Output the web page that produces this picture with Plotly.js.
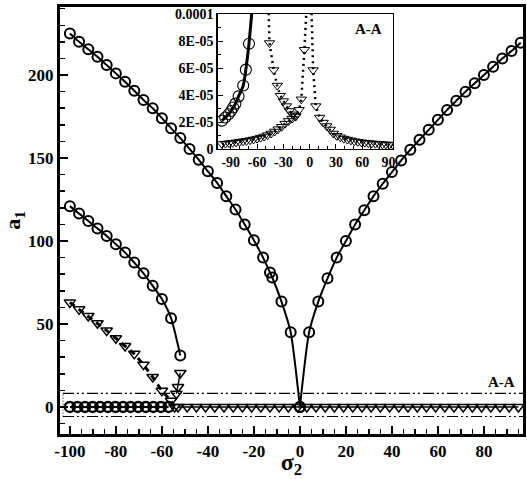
<!DOCTYPE html>
<html>
<head>
<meta charset="utf-8">
<script src="https://cdn.plot.ly/plotly-3.0.1.min.js"></script>
<style>html,body{margin:0;padding:0;background:#fff}#chart{width:527px;height:479px}</style>
</head>
<body>
<div id="chart"></div>
<script>
// ---------- main plot data ----------
const vLeftX = [-100,-96,-92,-88,-84,-80,-76,-72,-68,-64,-60,-56,-52,-48,-44,-40,-36,-32,-28,-24,-20,-16,-13,-12,-8,-4,0];
const vLeftY = [225,220,215.5,211,206,201,196,190.5,185,180,174,168,162,155.5,149,142,135,127,119,110,100.5,90,81,78,63.5,45,0];
const vRightX = [0,4,8,12,16,20,24,28,32,36,40,44,48,52,56,60,64,68,72,76,80,84,88,92,96];
const vRightY = [0,45,63.5,77.5,90,100,110,118.5,127,134.5,141.5,148.5,155,161,167,173,179,184.5,190,195,200,205,210,214.5,219.5];
const lowerCircX = [-100,-96,-92,-88,-84,-80,-76,-72,-68,-64,-60,-56,-52];
const lowerCircY = [121,116.5,112,107.5,103,98,93,87,80.5,73,65,53.5,31];
const lowerTriX = [-100,-96,-92,-88,-84,-80,-76,-72,-68,-64,-60,-56,-54.5];
const lowerTriY = [63,58.8,54.8,50.4,46,41.4,36.7,32,25.5,18,9.7,3.7,0];
const jumpTriX = [-52,-53,-53.7];
const jumpTriY = [20.5,12,8];
const zeroCircX = [-100,-96.7,-93.4,-90.1,-86.8,-83.5,-80.2,-76.9,-73.6,-70.3,-67,-63.7,-60.4,-57.1];
const zeroCircY = [0,0,0,0,0,0,0,0,0,0,0,0,0,0];
const zeroTriX = [-53,-49,-45,-41,-37,-33,-29,-25,-21,-17,-13,-9,-5,-1,3,7,11,15,19,23,27,31,35,39,43,47,51,55,59,63,67,71,75,79,83,87,91,95];
const zeroTriY = [0,0,0,0,0,0,0,0,0,0,0,0,0,0,0,0,0,0,0,0,0,0,0,0,0,0,0,0,0,0,0,0,0,0,0,0,0,0];
const sectionX = [-103, 97];
const sectionY = [-5.8, 8.2];
const xTicks = [-100,-80,-60,-40,-20,0,20,40,60,80];
const xTickText = ['-100','-80','-60','-40','-20','0','20','40','60','80'];
const yTicks = [0,50,100,150,200];
const yTickText = ['0','50','100','150','200'];

// ---------- inset (A-A) data ----------
const insetCircX = [-100,-96.3,-92.5,-89.6,-87.3,-84.7,-81.1,-75.8,-72.8,-69.2];
const insetCircY = [2.1e-5,2.33e-5,2.57e-5,2.82e-5,3.07e-5,3.36e-5,3.9e-5,4.7e-5,5.88e-5,7.8e-5];
const insetCircEndX = [-65.5];
const insetCircEndY = [1.05e-4];
const insetTriAX = [-100,-96,-92,-88,-84,-80,-76,-72,-68,-64,-60,-56,-52,-48,-44,-40,-36,-32,-28,-24,-20,-16,-12,-9.5,-6];
const insetTriAY = [0.37e-5,0.4e-5,0.43e-5,0.46e-5,0.49e-5,0.53e-5,0.57e-5,0.61e-5,0.66e-5,0.71e-5,0.77e-5,0.84e-5,0.93e-5,1.03e-5,1.15e-5,1.3e-5,1.47e-5,1.65e-5,1.88e-5,2.08e-5,2.25e-5,2.45e-5,2.9e-5,3.68e-5,7.35e-5];
const insetTriAEndX = [-3.5];
const insetTriAEndY = [1.05e-4];
const insetTriBX = [-45.8,-41,-37,-33.5,-30,-26.5,-23,-19.5,-16];
const insetTriBY = [7.85e-5,5.85e-5,4.7e-5,3.95e-5,3.55e-5,3.18e-5,2.82e-5,2.57e-5,2.4e-5];
const insetTriBStartX = [-47];
const insetTriBStartY = [1.05e-4];
const insetTriCX = [4,7,11.5,15.5,19.5,23.5,27,31,35,39,43,47,51,55,59,63,67,71,75,79,83,87,91,95];
const insetTriCY = [5.85e-5,3.18e-5,2.33e-5,1.96e-5,1.7e-5,1.45e-5,1.15e-5,0.98e-5,0.87e-5,0.77e-5,0.7e-5,0.64e-5,0.58e-5,0.54e-5,0.5e-5,0.47e-5,0.44e-5,0.42e-5,0.4e-5,0.38e-5,0.36e-5,0.34e-5,0.33e-5,0.31e-5];
const insetTriCStartX = [2];
const insetTriCStartY = [1.05e-4];
const insetXTicks = [-90,-60,-30,0,30,60,90];
const insetXText = ['-90','-60','-30','0','30','60','90'];
const insetYTicks = [0,2e-5,4e-5,6e-5,8e-5,1e-4];
const insetYText = ['0','2E-05','4E-05','6E-05','8E-05','0.0001'];

// ---------- styles ----------
const F = 'Liberation Serif, Times New Roman, serif';
const circ = {symbol:'circle-open', size:10, color:'#000', line:{width:2, color:'#000'}};
const tri = {symbol:'triangle-down-open', size:10, color:'#000', line:{width:1.5, color:'#000'}};
const dashdot = '11px,3px,2px,3px,2px,3px';
const insetTri = {symbol:'triangle-down-open', size:9, color:'#000', line:{width:1, color:'#000'}};

const traces = [
  {x:sectionX, y:[sectionY[1],sectionY[1]], mode:'lines', line:{color:'#000', width:1.1, dash:dashdot}, xaxis:'x', yaxis:'y'},
  {x:sectionX, y:[sectionY[0],sectionY[0]], mode:'lines', line:{color:'#000', width:1.1, dash:dashdot}, xaxis:'x', yaxis:'y'},
  {x:[sectionX[0],sectionX[0]], y:sectionY, mode:'lines', line:{color:'#000', width:1, dash:'1px,2px'}, xaxis:'x', yaxis:'y'},
  {x:vLeftX, y:vLeftY, mode:'lines+markers', line:{color:'#000', width:2, shape:'spline', smoothing:0.6}, marker:circ, xaxis:'x', yaxis:'y'},
  {x:vRightX, y:vRightY, mode:'lines+markers', line:{color:'#000', width:2, shape:'spline', smoothing:0.6}, marker:circ, xaxis:'x', yaxis:'y'},
  {x:lowerCircX, y:lowerCircY, mode:'lines+markers', line:{color:'#000', width:2, shape:'spline', smoothing:0.6}, marker:circ, xaxis:'x', yaxis:'y'},
  {x:lowerTriX, y:lowerTriY, mode:'lines+markers', line:{color:'#000', width:3, dash:'6px,5px'}, marker:tri, xaxis:'x', yaxis:'y'},
  {x:jumpTriX, y:jumpTriY, mode:'lines+markers', line:{color:'#000', width:1.5}, marker:tri, xaxis:'x', yaxis:'y'},
  {x:zeroCircX, y:zeroCircY, mode:'lines+markers', line:{color:'#000', width:2}, marker:{symbol:'circle-open', size:10, color:'#000', line:{width:2.5, color:'#000'}}, xaxis:'x', yaxis:'y'},
  {x:zeroTriX, y:zeroTriY, mode:'lines+markers', line:{color:'#000', width:1.5}, marker:tri, xaxis:'x', yaxis:'y'},

  // inset
  {x:insetCircX.concat(insetCircEndX), y:insetCircY.concat(insetCircEndY), mode:'lines', line:{color:'#000', width:3, shape:'spline', smoothing:0.6}, xaxis:'x2', yaxis:'y2'},
  {x:insetCircX, y:insetCircY, mode:'markers', marker:{symbol:'circle-open', size:11, color:'#000', line:{width:1.1, color:'#000'}}, xaxis:'x2', yaxis:'y2'},
  {x:insetTriAX.concat(insetTriAEndX), y:insetTriAY.concat(insetTriAEndY), mode:'lines', line:{color:'#000', width:2.5, dash:'2px,4px'}, xaxis:'x2', yaxis:'y2'},
  {x:insetTriBStartX.concat(insetTriBX), y:insetTriBStartY.concat(insetTriBY), mode:'lines', line:{color:'#000', width:2.5, dash:'2px,4px'}, xaxis:'x2', yaxis:'y2'},
  {x:insetTriCStartX.concat(insetTriCX), y:insetTriCStartY.concat(insetTriCY), mode:'lines', line:{color:'#000', width:2.5, dash:'2px,4px'}, xaxis:'x2', yaxis:'y2'},
  {x:insetTriAX, y:insetTriAY, mode:'markers', marker:insetTri, xaxis:'x2', yaxis:'y2'},
  {x:insetTriBX, y:insetTriBY, mode:'markers', marker:insetTri, xaxis:'x2', yaxis:'y2'},
  {x:insetTriCX, y:insetTriCY, mode:'markers', marker:insetTri, xaxis:'x2', yaxis:'y2'}
];

const tickFont = {family:F, size:17, color:'#000', weight:'bold'};
const insetFont = {family:F, size:14, color:'#000', weight:'bold'};

const layout = {
  width:527, height:479,
  margin:{l:60, r:4, t:7, b:45},
  paper_bgcolor:'#fff', plot_bgcolor:'#fff',
  showlegend:false,
  xaxis:{
    domain:[0,1], range:[-104.3,97], anchor:'y',
    showline:true, linewidth:3, linecolor:'#000', mirror:true,
    showgrid:false, zeroline:false,
    ticks:'inside', ticklen:8, tickwidth:2, tickcolor:'#000',
    tickvals:xTicks, ticktext:xTickText, tickfont:tickFont,
    minor:{ticks:'inside', dtick:5, tick0:0, ticklen:5, tickwidth:1.5, tickcolor:'#000', showgrid:false},
    title:{text:'σ<sub>2</sub>', font:{family:F, size:24, color:'#000', weight:'bold'}, standoff:4},
    automargin:false
  },
  yaxis:{
    domain:[0,1], range:[-16.3,241], anchor:'x',
    showline:true, linewidth:3, linecolor:'#000', mirror:true,
    showgrid:false, zeroline:false,
    ticks:'inside', ticklen:8, tickwidth:2, tickcolor:'#000',
    tickvals:yTicks, ticktext:yTickText, tickfont:tickFont,
    minor:{ticks:'inside', dtick:10, tick0:0, ticklen:5, tickwidth:1.5, tickcolor:'#000', showgrid:false},
    title:{text:'a<sub>1</sub>', font:{family:F, size:22, color:'#000', weight:'bold'}, standoff:4},
    automargin:false
  },
  xaxis2:{
    domain:[0.341,0.719], range:[-104.7,95], anchor:'y2',
    showline:true, linewidth:1, linecolor:'#000', mirror:true,
    showgrid:false, zeroline:false,
    ticks:'inside', ticklen:5, tickwidth:1, tickcolor:'#000',
    tickvals:insetXTicks, ticktext:insetXText, tickfont:insetFont,
    minor:{ticks:'inside', dtick:10, tick0:0, ticklen:3, tickwidth:1, tickcolor:'#000', showgrid:false},
    ticklabelstandoff:0,
    automargin:false
  },
  yaxis2:{
    domain:[0.6674,0.9836], range:[0,1e-4], anchor:'x2',
    showline:true, linewidth:1.5, linecolor:'#000', mirror:true,
    showgrid:false, zeroline:false,
    ticks:'inside', ticklen:5, tickwidth:1, tickcolor:'#000',
    tickvals:insetYTicks, ticktext:insetYText, tickfont:insetFont,
    minor:{ticks:'inside', dtick:1e-5, tick0:0, ticklen:3, tickwidth:1, tickcolor:'#000', showgrid:false},
    automargin:false
  },
  annotations:[
    {text:'A-A', x:87.7, y:15.2, xref:'x', yref:'y', showarrow:false, font:{family:F, size:15, color:'#000', weight:'bold'}},
    {text:'A-A', x:67, y:8.9e-5, xref:'x2', yref:'y2', showarrow:false, font:{family:F, size:15, color:'#000', weight:'bold'}}
  ]
};

Plotly.newPlot('chart', traces, layout, {staticPlot:true, displayModeBar:false});
</script>
</body>
</html>
